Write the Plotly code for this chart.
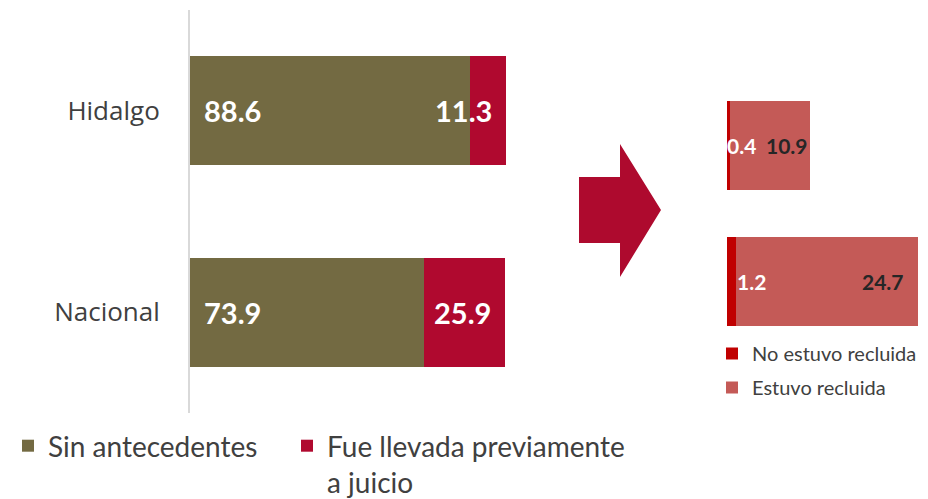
import plotly.graph_objects as go

# ---- data ----
regions = ["Hidalgo", "Nacional"]
sin_antecedentes = [88.6, 73.9]
llevada_juicio = [11.3, 25.9]
no_recluida = [0.4, 1.2]
recluida = [10.9, 24.7]

left_names = ["Sin antecedentes", "Fue llevada previamente<br>a juicio"]
right_names = ["No estuvo recluida", "Estuvo recluida"]

# ---- style ----
OFF = 8  # page body margin
W, H = 928 - OFF, 499 - OFF
C_OLIVE = "#736A42"
C_CRIMSON = "#B0092F"
C_DARKRED = "#C00000"
C_LIGHTRED = "#C45A57"
FONT = "Lato, 'Open Sans', sans-serif"


def fx(x):
    return (x - OFF) / W


def fy(y):
    return (H - (y - OFF)) / H


fig = go.Figure()

# left stacked bars
fig.add_trace(go.Bar(y=regions, x=sin_antecedentes, orientation="h", name=left_names[0],
                     marker=dict(color=C_OLIVE, line=dict(width=0)), width=0.54,
                     xaxis="x", yaxis="y", legend="legend", hoverinfo="x+y"))
fig.add_trace(go.Bar(y=regions, x=llevada_juicio, orientation="h", name=left_names[1],
                     marker=dict(color=C_CRIMSON, line=dict(width=0)), width=0.54,
                     xaxis="x", yaxis="y", legend="legend3", hoverinfo="x+y"))

# right stacked bars
fig.add_trace(go.Bar(y=regions, x=no_recluida, orientation="h", name=right_names[0],
                     marker=dict(color=C_DARKRED, line=dict(width=0)), width=0.65,
                     xaxis="x2", yaxis="y2", legend="legend2", legendgroup="g1",
                     hoverinfo="x+y"))
fig.add_trace(go.Bar(y=regions, x=recluida, orientation="h", name=right_names[1],
                     marker=dict(color=C_LIGHTRED, line=dict(width=0)), width=0.65,
                     xaxis="x2", yaxis="y2", legend="legend2", legendgroup="g2",
                     hoverinfo="x+y"))

annotations = []
# left labels
for r, a, b in zip(regions, sin_antecedentes, llevada_juicio):
    annotations.append(dict(x=0, y=r, xref="x", yref="y", text=f"<b>{a:.1f}</b>",
                            showarrow=False, xanchor="left", xshift=12,
                            font=dict(family=FONT, size=29, color="white")))
    annotations.append(dict(x=a + b, y=r, xref="x", yref="y", text=f"<b>{b:.1f}</b>",
                            showarrow=False, xanchor="right", xshift=-12,
                            font=dict(family=FONT, size=29, color="white")))
# right labels
left_shift = [-2, 8]
right_shift = [0, -12]
for i, (r, a, b) in enumerate(zip(regions, no_recluida, recluida)):
    annotations.append(dict(x=0, y=r, xref="x2", yref="y2", text=f"<b>{a:.1f}</b>",
                            showarrow=False, xanchor="left", xshift=left_shift[i],
                            font=dict(family=FONT, size=21, color="white")))
    annotations.append(dict(x=a + b, y=r, xref="x2", yref="y2", text=f"<b>{b:.1f}</b>",
                            showarrow=False, xanchor="right", xshift=right_shift[i],
                            font=dict(family=FONT, size=21, color="#262626")))


# arrow shape (paper coords)
def P(x, y):
    return f"{fx(x):.5f},{fy(y):.5f}"


arrow_path = ("M" + P(579, 177) + " L" + P(620, 177) + " L" + P(620, 144) + " L" + P(661, 210)
              + " L" + P(620, 277) + " L" + P(620, 243) + " L" + P(579, 243) + " Z")

legend_font = dict(family=FONT, size=28, color="#404040")

fig.update_layout(
    width=W, height=H,
    margin=dict(l=0, r=0, t=0, b=0, autoexpand=False),
    paper_bgcolor="white", plot_bgcolor="white",
    barmode="stack",
    bargap=0,
    font=dict(family=FONT, color="#404040"),
    xaxis=dict(domain=[fx(190), fx(506)], range=[0, 100], visible=False, fixedrange=True),
    yaxis=dict(domain=[fy(413), fy(10)], autorange="reversed", showline=True, linecolor="#D9D9D9",
               linewidth=2, ticks="", showgrid=False, zeroline=False, ticklabelstandoff=23,
               tickfont=dict(family="'Open Sans', sans-serif", size=26, color="#404040")),
    xaxis2=dict(domain=[fx(727), fx(727 + 7.37 * 26)], range=[0, 26], visible=False,
                anchor="y2", fixedrange=True),
    yaxis2=dict(domain=[fy(350), fy(77)], autorange="reversed", visible=False, anchor="x2"),
    legend=dict(orientation="v", x=0, y=fy(421), xanchor="left", yanchor="top",
                font=legend_font, valign="top", bgcolor="rgba(0,0,0,0)"),
    legend3=dict(orientation="v", x=fx(287), y=fy(421), xanchor="left", yanchor="top",
                 font=legend_font, valign="top", bgcolor="rgba(0,0,0,0)"),
    legend2=dict(orientation="v", x=fx(712), y=fy(334), xanchor="left", yanchor="top",
                 font=dict(family=FONT, size=20, color="#404040"),
                 bgcolor="rgba(0,0,0,0)", traceorder="grouped", tracegroupgap=5),
    shapes=[dict(type="path", path=arrow_path, xref="paper", yref="paper",
                 fillcolor="#AE0A2E", line=dict(width=0))],
    annotations=annotations,
    showlegend=True,
)

fig.write_html("out.html")
